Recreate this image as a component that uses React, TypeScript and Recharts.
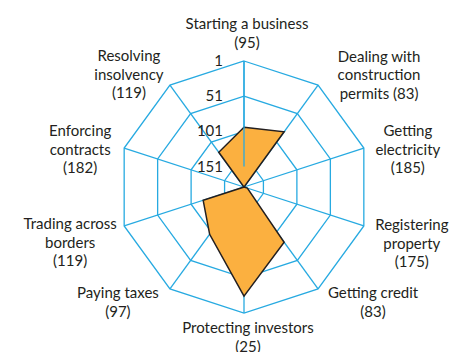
import React from "react";
import { RadarChart, Radar, PolarGrid, PolarAngleAxis, PolarRadiusAxis } from "recharts";

// Doing Business rankings, lower rank = further out
const categories = [
  "Starting a business",
  "Dealing with construction permits",
  "Getting electricity",
  "Registering property",
  "Getting credit",
  "Protecting investors",
  "Paying taxes",
  "Trading across borders",
  "Enforcing contracts",
  "Resolving insolvency",
];
const ranks = [95, 83, 185, 175, 83, 25, 97, 119, 182, 119];
const labelLines = [
  ["Starting a business", "(95)"],
  ["Dealing with", "construction", "permits (83)"],
  ["Getting", "electricity", "(185)"],
  ["Registering", "property", "(175)"],
  ["Getting credit", "(83)"],
  ["Protecting investors", "(25)"],
  ["Paying taxes", "(97)"],
  ["Trading across", "borders", "(119)"],
  ["Enforcing", "contracts", "(182)"],
  ["Resolving", "insolvency", "(119)"],
];
const rankTicks = [1, 51, 101, 151];

// rank scale runs from 1 at the rim to RANK_CENTER at the middle
const RANK_CENTER = 180;
const toRadial = (rank: number) => Math.max(0, RANK_CENTER - rank);

const data = categories.map((name, i) => ({ name, rank: ranks[i] }));

const CX = 244;
const CY = 187;
const R = 126;
const BLUE = "#27aae1";
const ORANGE = "#fbb040";
const INK = "#231f20";
const FONT = "Lato, 'Open Sans', sans-serif";
const LINE_H = 18.7;

// where each label block sits relative to its spoke end (first baseline)
const labelOffsets: [number, number][] = [
  [3, -31.7],
  [61, -23.4],
  [44, -12],
  [48, 4],
  [55, 9],
  [4, 20],
  [-52, 9],
  [-54, 3],
  [-44, -12],
  [-41, -24],
];

const AngleTick = (props: any) => {
  const { payload } = props;
  const i = payload.index;
  const a = (payload.coordinate * Math.PI) / 180;
  const vx = CX + R * Math.cos(a);
  const vy = CY - R * Math.sin(a);
  const lines = labelLines[i];
  const [dx, dy] = labelOffsets[i];
  return (
    <text x={vx + dx} y={vy + dy} textAnchor="middle" fill={INK} fontSize={15} fontFamily={FONT}>
      {lines.map((l, k) => (
        <tspan key={k} x={vx + dx} y={vy + dy + k * LINE_H}>
          {l}
        </tspan>
      ))}
    </text>
  );
};

const RadiusTick = (props: any) => {
  const { x, y, payload } = props;
  return (
    <text x={x - 21} y={y + 5} textAnchor="end" fill={INK} fontSize={15} fontFamily={FONT}>
      {RANK_CENTER - payload.value}
    </text>
  );
};

export default function App() {
  return (
    <div style={{ position: "absolute", left: 0, top: 0, width: 461, height: 352, background: "#fff" }}>
      <RadarChart
        width={461}
        height={352}
        cx={CX}
        cy={CY}
        outerRadius={R}
        data={data}
        margin={{ top: 0, right: 0, bottom: 0, left: 0 }}
      >
        <PolarGrid gridType="polygon" stroke={BLUE} strokeWidth={1.3} strokeOpacity={1} />
        <PolarAngleAxis dataKey="name" tick={<AngleTick />} tickLine={false} axisLine={false} />
        <Radar
          dataKey={(d: any) => toRadial(d.rank)}
          stroke={INK}
          strokeWidth={1.5}
          fill={ORANGE}
          fillOpacity={1}
          isAnimationActive={false}
        />
        <PolarRadiusAxis
          angle={90}
          type="number"
          domain={[0, RANK_CENTER - 1]}
          ticks={rankTicks.map(toRadial)}
          tick={<RadiusTick />}
          tickLine={false}
          axisLine={{ stroke: BLUE, strokeWidth: 1.3 }}
        />
        <PolarRadiusAxis
          radiusAxisId="low"
          angle={-90}
          type="number"
          domain={[0, RANK_CENTER - 1]}
          tick={false}
          tickLine={false}
          axisLine={{ stroke: BLUE, strokeWidth: 1.3 }}
        />
      </RadarChart>
    </div>
  );
}
